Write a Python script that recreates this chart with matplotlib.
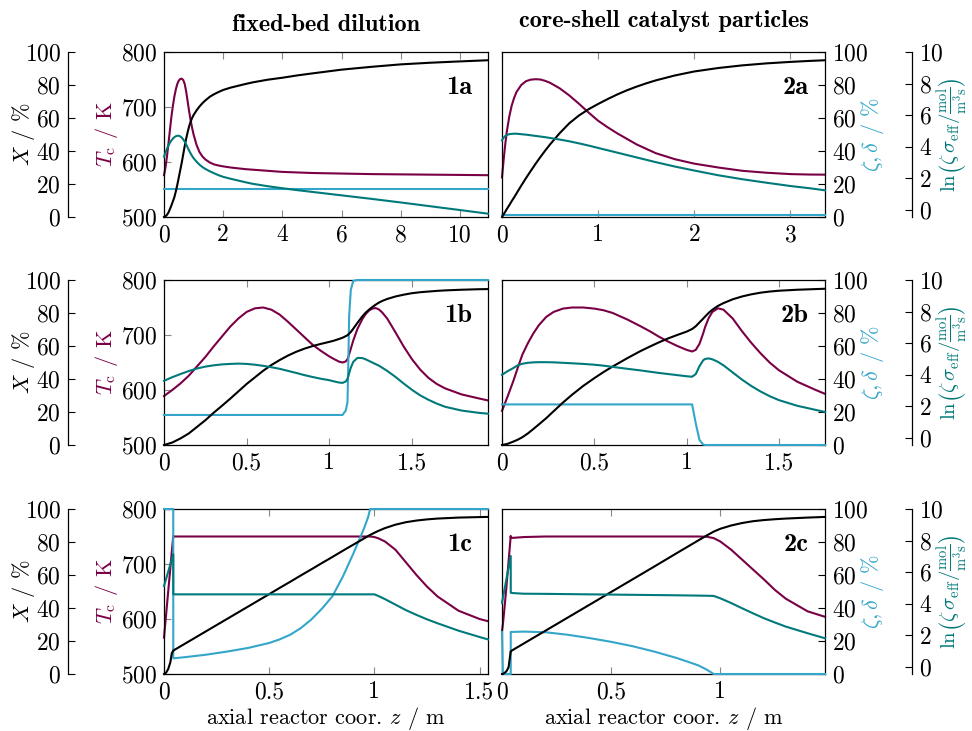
import matplotlib.pyplot as plt
from matplotlib.ticker import FormatStrFormatter

plt.rcParams['font.family'] = ['cmr10', 'DejaVu Serif']
plt.rcParams['mathtext.fontset'] = 'cm'
plt.rcParams['axes.unicode_minus'] = False
plt.rcParams['axes.formatter.use_mathtext'] = True

c_X = 'black'
c_Tc = '#7a0046'
c_ln = '#00797a'
c_zeta = '#33a6c9'

# --- 1a: fixed-bed dilution
z_1a = [0, 0.05, 0.1, 0.15, 0.2, 0.25, 0.3, 0.35, 0.4, 0.45, 0.5, 0.55, 0.6, 0.65, 0.7, 0.75, 0.8, 0.85,
        0.9, 0.95, 1.0, 1.1, 1.2, 1.3, 1.4, 1.55, 1.7, 1.85, 2.0, 2.25, 2.5, 2.75, 3, 3.5, 4, 4.5, 5, 6,
        7, 8, 9, 10, 10.95]
X_1a = [0, 0.4, 1.3, 2.7, 4.8, 7, 9.5, 12, 15.5, 19.5, 24, 28.5, 33, 38, 43, 47.5, 51.5, 55, 57.8, 60,
        61.8, 64.6, 67, 69, 70.7, 72.9, 74.5, 75.8, 77, 78.4, 79.5, 80.6, 81.6, 83.2, 84.4, 85.8, 87,
        89.3, 91, 92.5, 93.5, 94.3, 95]
Tc_1a = [576, 590, 610, 633, 658, 682, 702, 719, 732, 742, 748, 751, 751.5, 749, 742, 728, 710, 692,
         676, 662, 650, 631, 618, 610, 604.5, 599, 595.5, 593.5, 592, 590, 588.5, 587, 586, 584, 582,
         581, 580, 579, 578, 577.5, 577, 576.5, 576]
ln_1a = [3.38, 3.65, 3.88, 4.08, 4.26, 4.4, 4.52, 4.61, 4.67, 4.7, 4.7, 4.66, 4.58, 4.47, 4.33, 4.15,
         3.95, 3.75, 3.58, 3.42, 3.28, 3.06, 2.87, 2.72, 2.6, 2.45, 2.32, 2.2, 2.1, 1.98, 1.87, 1.76,
         1.66, 1.51, 1.38, 1.26, 1.15, 0.93, 0.71, 0.48, 0.24, 0.0, -0.23]
zeta_1a = [17] * 43

# --- 2a: core-shell catalyst particles
z_2a = [0, 0.01, 0.02, 0.035, 0.05, 0.075, 0.1, 0.125, 0.15, 0.2, 0.25, 0.3, 0.35, 0.4, 0.45, 0.5, 0.6,
        0.7, 0.8, 0.9, 1.0, 1.1, 1.2, 1.3, 1.4, 1.5, 1.6, 1.8, 2.0, 2.25, 2.5, 2.75, 3.0, 3.2, 3.36]
X_2a = [0, 0.9, 1.9, 3.3, 4.8, 7.1, 9.5, 11.8, 14.2, 19, 23.6, 28, 32.3, 36.4, 40.3, 44, 50.8, 56.8,
        61.5, 65.3, 68.5, 71.5, 74.3, 76.8, 79, 81, 82.8, 85.8, 88.2, 90.3, 91.9, 93.1, 94, 94.6, 95]
Tc_2a = [572, 591, 609, 634, 655, 682, 702, 716, 727, 740, 747, 749.8, 750.5, 750, 747.5, 744, 734,
         721, 706, 690, 675, 663, 652, 642, 632, 624, 616, 605, 597, 590, 584, 580.5, 578, 577.2, 577]
ln_2a = [4.41, 4.52, 4.6, 4.69, 4.75, 4.8, 4.82, 4.83, 4.83, 4.8, 4.77, 4.73, 4.69, 4.65, 4.61, 4.56,
         4.46, 4.35, 4.22, 4.08, 3.93, 3.78, 3.63, 3.48, 3.33, 3.18, 3.03, 2.75, 2.5, 2.2, 1.95, 1.73,
         1.52, 1.38, 1.25]
zeta_2a = [1] * 35

# --- 1b
z_1b = [0, 0.05, 0.1, 0.15, 0.2, 0.25, 0.3, 0.35, 0.4, 0.45, 0.5, 0.55, 0.6, 0.65, 0.7, 0.75, 0.8, 0.85,
        0.9, 0.95, 1.0, 1.03, 1.06, 1.08, 1.1, 1.11, 1.115, 1.12, 1.13, 1.145, 1.17, 1.2, 1.22, 1.24,
        1.26, 1.28, 1.3, 1.32, 1.35, 1.4, 1.45, 1.5, 1.55, 1.6, 1.65, 1.7, 1.8, 1.9, 1.96]
X_1b = [0, 1.5, 4, 7, 11, 15, 19.5, 23.7, 28, 32.5, 37, 41, 45, 48.5, 51.5, 54.2, 56.5, 58.4, 60, 61.3,
        62.5, 63.3, 64.3, 65, 66, 66.5, 67, 67.5, 68.5, 70.5, 74, 78, 80.2, 82, 83.6, 85, 86.3, 87.3,
        88.5, 90, 91.1, 92, 92.6, 93, 93.4, 93.7, 94.1, 94.4, 94.5]
Tc_1b = [589, 600, 612, 626, 643, 660, 679, 697, 715, 730, 742, 748.5, 750, 746, 737, 724, 710, 696,
         682, 671, 661, 656, 651.5, 650, 652, 656, 660, 665, 675, 690, 711, 729, 738, 744.5, 748, 749,
         746.5, 741, 730, 705, 679, 656, 637, 622, 611, 603, 592, 585, 581]
ln_1b = [3.62, 3.85, 4.05, 4.24, 4.4, 4.52, 4.6, 4.66, 4.69, 4.71, 4.69, 4.64, 4.57, 4.48, 4.38, 4.25,
         4.12, 3.98, 3.86, 3.75, 3.66, 3.58, 3.51, 3.49, 3.58, 3.75, 3.9, 4.1, 4.45, 4.82, 5.07, 5.06,
         4.98, 4.88, 4.78, 4.68, 4.58, 4.45, 4.25, 3.87, 3.45, 3.05, 2.7, 2.42, 2.18, 1.98, 1.74, 1.6,
         1.54]
zeta_1b = [18.2] * 24 + [21, 26, 50, 78, 94, 99.5] + [100] * 19

# --- 2b
z_2b = [0, 0.03, 0.06, 0.085, 0.11, 0.14, 0.17, 0.2, 0.24, 0.28, 0.33, 0.38, 0.44, 0.5, 0.55, 0.6, 0.68,
        0.75, 0.8, 0.85, 0.9, 0.95, 1.0, 1.03, 1.05, 1.07, 1.09, 1.1, 1.12, 1.14, 1.17, 1.2, 1.25, 1.3,
        1.35, 1.4, 1.45, 1.5, 1.6, 1.7, 1.75]
X_2b = [0, 0.7, 2, 3.2, 4.7, 7, 9.7, 12.5, 16.3, 20.5, 25.7, 30.5, 35.8, 40.5, 44.2, 47.6, 52.7, 56.9,
        59.6, 62.2, 64.6, 66.7, 68.7, 70.3, 72, 74.3, 76.6, 77.8, 80.1, 82, 84.3, 86, 88.3, 90, 91.3,
        92.3, 93, 93.5, 94.1, 94.5, 94.7]
Tc_2b = [562, 588, 615, 640, 664, 685, 703, 718, 733, 742, 748, 750, 750, 748, 745, 740, 728, 716, 707,
         697, 688, 680, 673, 670, 673, 684, 703, 714, 731, 742, 748.5, 746, 730, 707, 686, 667, 650,
         636, 615, 600, 593]
ln_2b = [4.0, 4.23, 4.42, 4.6, 4.7, 4.76, 4.79, 4.8, 4.8, 4.79, 4.76, 4.73, 4.69, 4.64, 4.58, 4.5, 4.38,
         4.28, 4.2, 4.12, 4.05, 3.98, 3.91, 3.88, 4.05, 4.55, 4.92, 5.0, 5.04, 4.98, 4.82, 4.6, 4.15,
         3.7, 3.3, 2.95, 2.65, 2.4, 2.04, 1.78, 1.65]
zeta_2b = [24.6] * 24 + [13, 3, 0.3] + [0] * 14

# --- 1c
z_1c = [0, 0.01, 0.02, 0.03, 0.037, 0.044, 0.0441, 0.1, 0.2, 0.3, 0.4, 0.5, 0.55, 0.6, 0.65, 0.7, 0.75,
        0.8, 0.85, 0.9, 0.93, 0.95, 0.97, 0.98, 1.0, 1.02, 1.05, 1.1, 1.15, 1.2, 1.25, 1.3, 1.4, 1.5,
        1.54]
X_1c = [0, 0.8, 3, 7, 12.5, 14.2, 14.2, 18.4, 25.9, 33.4, 40.9, 48.4, 52.2, 55.9, 59.7, 63.4, 67.2,
        70.9, 74.7, 78.4, 80.6, 82.1, 83.6, 84.3, 85.6, 86.8, 88.4, 90.5, 92, 93, 93.7, 94.2, 94.8,
        95.1, 95.2]
Tc_1c = [566, 608, 650, 692, 722, 751] + [750] * 18 + [749, 746.5, 741, 726, 703, 680, 659, 641, 615,
                                                       600, 596]
ln_1c = [5.13, 5.58, 6.04, 6.49, 6.81, 7.13] + [4.6] * 19 + [4.49, 4.3, 3.95, 3.6, 3.3, 3.02, 2.77,
                                                            2.3, 1.9, 1.75]
zeta_1c = [100] * 6 + [9.5, 10.2, 11.7, 13.6, 15.8, 18.8, 21, 23.8, 27.8, 33, 39.5, 47, 59, 73, 82, 88,
                       95, 100] + [100] * 11

# --- 2c
z_2c = [0, 0.004, 0.01, 0.02, 0.03, 0.04, 0.0401, 0.05, 0.1, 0.2, 0.3, 0.4, 0.5, 0.6, 0.7, 0.8, 0.85,
        0.9, 0.94, 0.97, 1.0, 1.05, 1.1, 1.15, 1.2, 1.25, 1.3, 1.4, 1.48]
X_2c = [0, 0, 0.5, 1.6, 4, 13.8, 13.8, 14.6, 18.5, 26.3, 34.1, 41.9, 49.7, 57.5, 65.3, 73.2, 77.1, 81,
        84.1, 86.3, 88, 90, 91.5, 92.6, 93.3, 93.8, 94.2, 94.8, 95.2]
Tc_2c = [578, 590, 614, 657, 704, 751, 748, 747.5, 749, 750, 750, 750, 750, 750, 750, 750, 750, 750,
         749.5, 747, 741, 726, 708, 690, 672, 653, 637, 614, 604]
ln_2c = [4.07, 4.37, 4.81, 5.55, 6.29, 7.03, 4.7, 4.68, 4.64, 4.63, 4.615, 4.6, 4.585, 4.57, 4.555, 4.54,
         4.53, 4.52, 4.51, 4.5, 4.35, 4.05, 3.72, 3.4, 3.09, 2.82, 2.56, 2.14, 1.82]
zeta_2c = [25.5, 0, 0, 0, 0, 0, 25.5, 25.5, 25.7, 25.3, 23.8, 21.8, 19.5, 16.8, 13.5, 9.7, 7.5, 5.2,
           2.5, 0] + [0] * 9

xmax = {'1a': 10.95, '2a': 3.36, '1b': 1.96, '2b': 1.75, '1c': 1.54, '2c': 1.48}
xticks = {'1a': [0, 2, 4, 6, 8, 10], '2a': [0, 1, 2, 3],
          '1b': [0, 0.5, 1, 1.5], '2b': [0, 0.5, 1, 1.5],
          '1c': [0, 0.5, 1, 1.5], '2c': [0, 0.5, 1]}

panels = [
    ('1a', 0, 0, z_1a, X_1a, Tc_1a, ln_1a, zeta_1a),
    ('2a', 0, 1, z_2a, X_2a, Tc_2a, ln_2a, zeta_2a),
    ('1b', 1, 0, z_1b, X_1b, Tc_1b, ln_1b, zeta_1b),
    ('2b', 1, 1, z_2b, X_2b, Tc_2b, ln_2b, zeta_2b),
    ('1c', 2, 0, z_1c, X_1c, Tc_1c, ln_1c, zeta_1c),
    ('2c', 2, 1, z_2c, X_2c, Tc_2c, ln_2c, zeta_2c),
]

W, H = 972, 731
fig = plt.figure(figsize=(W / 100, H / 100), dpi=100)

col_x = [164, 502]
col_w = [324, 323]
row_top = [52, 280, 509]
ax_h = 165
fs = 17      # tick labels
fs_lab = 16  # axis labels
lw = 1.5

for name, r, c, z, X, Tc, ln, zeta in panels:
    rect = [col_x[c] / W, 1 - (row_top[r] + ax_h) / H, col_w[c] / W, ax_h / H]
    ax = fig.add_axes(rect)
    ax_pct = ax.twinx()
    ax_ln = ax.twinx()

    ax.set_xlim(0, xmax[name])
    ax.set_ylim(500, 800)
    ax_pct.set_ylim(0, 100)
    ax_ln.set_ylim(-0.44, 10)

    ax.plot(z, Tc, color=c_Tc, lw=lw, clip_on=False)
    ax_pct.plot(z, zeta, color=c_zeta, lw=lw, clip_on=False)
    ax_pct.plot(z, X, color=c_X, lw=lw, clip_on=False)
    ax_ln.plot(z, ln, color=c_ln, lw=lw, clip_on=False)

    ax.set_xticks(xticks[name])
    ax.xaxis.set_major_formatter(FormatStrFormatter('%g'))
    ax.tick_params(axis='x', direction='in', top=True, length=5, color='#888',
                   labelsize=fs, pad=5)
    ax.set_yticks([500, 600, 700, 800])
    for s in ax.spines.values():
        s.set_linewidth(0.9)
    for a in (ax_pct, ax_ln):
        for s in a.spines.values():
            s.set_visible(False)

    if c == 0:
        ax.tick_params(axis='y', direction='in', length=5, color='#888',
                       labelsize=fs, pad=5, right=False)
        ax_pct.set_yticks([0, 20, 40, 60, 80, 100])
        ax_pct.yaxis.set_ticks_position('left')
        ax_pct.spines['left'].set_visible(True)
        ax_pct.spines['left'].set_linewidth(0.9)
        ax_pct.spines['left'].set_position(('axes', (68 - 164) / 324))
        ax_pct.tick_params(axis='y', direction='in', length=5, labelsize=fs, pad=5)
        ax_ln.tick_params(axis='y', right=False, labelright=False)
        ax.text(-0.435, 0.5, r'$X$ / %', transform=ax.transAxes, rotation=90,
                ha='center', va='center', fontsize=fs_lab, color=c_X)
        ax.text(-0.176, 0.5, r'$T_{\rm c}$ / K', transform=ax.transAxes, rotation=90,
                ha='center', va='center', fontsize=fs_lab, color=c_Tc)
    else:
        ax.tick_params(axis='y', left=False, labelleft=False, right=False)
        ax_pct.set_yticks([0, 20, 40, 60, 80, 100])
        ax_pct.tick_params(axis='y', direction='in', length=5, labelsize=fs, pad=5)
        ax_ln.set_yticks([0, 2, 4, 6, 8, 10])
        ax_ln.spines['right'].set_visible(True)
        ax_ln.spines['right'].set_linewidth(0.9)
        ax_ln.spines['right'].set_position(('axes', (912 - 502) / 323))
        ax_ln.tick_params(axis='y', direction='in', length=5, labelsize=fs, pad=5)
        ax.text(1.146, 0.5, r'$\zeta, \delta$ / %', transform=ax.transAxes, rotation=90,
                ha='center', va='center', fontsize=fs_lab, color=c_zeta)
        ax.text(1.449, 0.5,
                r'$\ln\!\left(\zeta\,\sigma_{\rm eff}/\frac{\rm mol}{\rm m^3 s}\right)$',
                transform=ax.transAxes, rotation=90, ha='right', va='center',
                fontsize=15, color=c_ln)

    ax.text(0.95, 0.785, name, transform=ax.transAxes, ha='right', va='center',
            fontsize=19, family='cmb10')

fig.text(326 / W, 1 - 31 / H, 'fixed-bed dilution', ha='center', va='baseline',
         fontsize=17.5, family='cmb10')
fig.text(664 / W, 1 - 27 / H, 'core-shell catalyst particles', ha='center', va='baseline',
         fontsize=17.5, family='cmb10')
for cx in (326, 664):
    fig.text(cx / W, 1 - 724 / H, r'axial reactor coor. $z$ / m', ha='center',
             va='baseline', fontsize=16)

fig.savefig('out.png', dpi=100)
